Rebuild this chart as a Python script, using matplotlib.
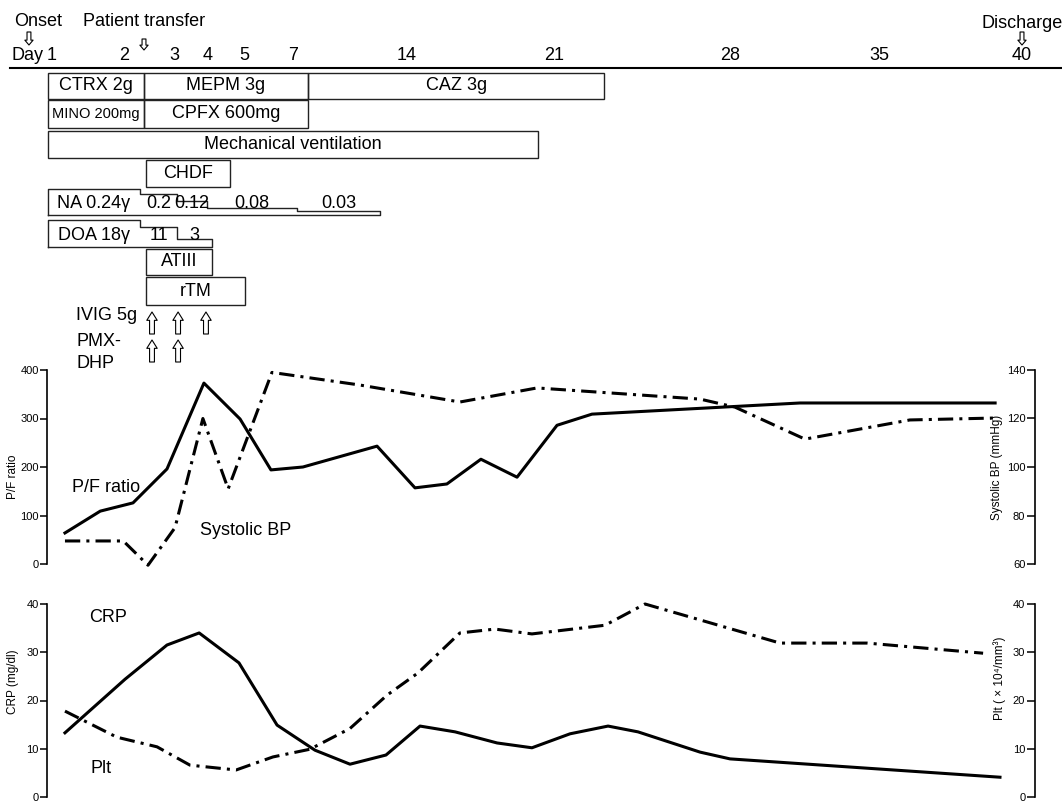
import numpy as np
import matplotlib
matplotlib.use('Agg')
import matplotlib.pyplot as plt
from matplotlib.patches import Rectangle

plt.rcParams['font.family'] = ['Liberation Sans', 'DejaVu Sans']

# day axis (drawn non-linear in the original)
tick_days = [1, 2, 3, 4, 5, 7, 14, 21, 28, 35, 40]
tick_labels = ['1', '2', '3', '4', '5', '7', '14', '21', '28', '35', '40']
tick_px = [52, 124, 174, 208, 244, 293, 407, 554, 730, 879, 1022]

# events
event_labels = ['Onset', 'Patient transfer', 'Discharge']
event_days = [0.68, 2.4, 40.0]

# treatment boxes
box_labels = ['CTRX 2g', 'MEPM 3g', 'CAZ 3g', 'MINO 200mg', 'CPFX 600mg',
              'Mechanical ventilation', 'CHDF', 'ATIII', 'rTM']
box_start = [0.94, 2.40, 7.92, 0.94, 2.40, 0.94, 2.44, 2.44, 2.44]
box_end = [2.40, 7.92, 23.0, 2.40, 7.92, 20.24, 4.61, 4.11, 5.04]

# noradrenaline / dopamine tapering
na_labels = ['NA 0.24\u03b3', '0.2', '0.12', '0.08', '0.03']
na_start = [0.94, 2.32, 3.09, 3.97, 7.25]
na_end = 12.34
doa_labels = ['DOA 18\u03b3', '11', '3']
doa_start = [0.94, 2.32, 3.09]
doa_end = 4.11

ivig_days = [2.56, 3.12, 3.94]
pmx_days = [2.56, 3.12]

# P/F ratio
pf_day = [1.18, 1.67, 2.18, 2.86, 3.88, 4.89, 6.10, 7.61, 12.16, 14.38, 15.90,
          17.52, 19.24, 21.12, 22.51, 31.29, 39.06]
pf_val = [64, 109, 126, 196, 373, 299, 194, 200, 243, 157, 165, 216, 179, 286,
          309, 332, 332]

# systolic BP
sbp_day = [1.18, 1.99, 2.48, 3.03, 3.85, 4.56, 6.14, 11.11, 16.52, 20.19, 26.81,
           28.23, 31.52, 36.08, 39.06]
sbp_val = [69.5, 69.5, 59.5, 75, 120, 91, 139, 133.8, 126.8, 132.6, 128, 124.7,
           111.5, 119.4, 120.2]

# CRP
crp_day = [1.18, 2.02, 2.86, 3.74, 4.86, 6.35, 8.35, 10.5, 12.71, 14.62, 16.29,
           18.29, 19.95, 21.64, 23.15, 24.34, 26.81, 28.0, 39.23]
crp_val = [13.3, 24.4, 31.5, 34.0, 27.8, 14.9, 9.7, 6.8, 8.7, 14.7, 13.5, 11.2,
           10.2, 13.1, 14.7, 13.5, 9.3, 7.9, 4.1]

# platelets
plt_day = [1.18, 1.90, 2.66, 3.47, 4.78, 6.18, 8.04, 10.5, 12.77, 14.52, 16.52,
           18.19, 19.95, 23.03, 24.62, 26.81, 30.35, 34.44, 38.64]
plt_val = [17.8, 12.4, 10.4, 6.6, 5.6, 8.3, 9.9, 14.2, 21.1, 25.7, 34.0, 34.8,
           33.8, 35.6, 40.0, 36.7, 31.9, 31.9, 29.8]

W, H = 1062, 801
knot_days = [-20] + tick_days + [80]
knot_px = [52 - 21 * 72] + tick_px + [1022 + 40 * 28.6]


def fwd(d):
    return np.interp(d, knot_days, knot_px)


def inv(p):
    return np.interp(p, knot_px, knot_days)


def mid(a, b):
    return float(inv((fwd(a) + fwd(b)) / 2))


xlo, xhi = float(inv(0)), float(inv(W))
dashdot = (0, (5, 2, 1, 2))
lw_line = 2.2
big = 13

fig = plt.figure(figsize=(W / 100, H / 100), dpi=100)

# ---- top: treatment timeline ----
top = fig.add_axes([0, 0, 1, 1])
top.set_xscale('function', functions=(fwd, inv))
top.set_xlim(xlo, xhi)
top.set_ylim(H, 0)
top.axis('off')

top.axhline(68, xmin=10 / W, xmax=1, color='black', lw=1.5)
for d, lab in zip(tick_days, tick_labels):
    top.text(d, 55, lab, ha='center', va='center', fontsize=big)
top.annotate('Day', xy=(1, 55), xytext=(-6, 0), textcoords='offset points',
             ha='right', va='center', fontsize=big)

small_arrow = dict(arrowstyle='simple,head_length=0.5,head_width=0.85,tail_width=0.4',
                   fc='white', ec='black', lw=0.8, shrinkA=0, shrinkB=0,
                   mutation_scale=7)
big_arrow = dict(arrowstyle='simple,head_length=0.6,head_width=0.75,tail_width=0.35',
                 fc='white', ec='black', lw=0.8, shrinkA=0, shrinkB=0,
                 mutation_scale=10)

ev_y = [(32, 45, 21), (39, 50, 21), (32, 45, 23)]
ev_off = [6.5, 0, 0]
for lab, d, (y0, y1, ty), off in zip(event_labels, event_days, ev_y, ev_off):
    top.annotate('', xy=(d, y1), xytext=(d, y0), arrowprops=small_arrow)
    top.annotate(lab, xy=(d, ty), xytext=(off, 0), textcoords='offset points',
                 ha='center', va='center', fontsize=big)

box_rows = [(73, 99), (73, 99), (73, 99), (100, 128), (100, 128), (131, 158),
            (160, 187), (249, 275), (277, 305)]
for lab, s, e, (y0, y1) in zip(box_labels, box_start, box_end, box_rows):
    top.add_patch(Rectangle((s, y0), e - s, y1 - y0, fill=False,
                            ec='#222222', lw=1.0))
    fs = 10.5 if lab.startswith('MINO') else big
    top.text(mid(s, e), (y0 + y1) / 2, lab, ha='center', va='center', fontsize=fs)


def step_outline(starts, end, tops, bottom):
    edges = list(starts) + [end]
    xs, ys = [starts[0]], [bottom]
    for i, t in enumerate(tops):
        xs += [edges[i], edges[i + 1]]
        ys += [t, t]
    xs += [end, starts[0]]
    ys += [bottom, bottom]
    return xs, ys


for labels, starts, end, tops, bottom, ty in [
        (na_labels, na_start, na_end, [189, 194, 201, 208, 211], 215, 203),
        (doa_labels, doa_start, doa_end, [220, 227, 239], 247, 236)]:
    xs, ys = step_outline(starts, end, tops, bottom)
    top.plot(xs, ys, color='#222222', lw=1.0)
    edges = list(starts) + [end]
    for i, lab in enumerate(labels):
        top.text(mid(edges[i], edges[i + 1]), ty, lab, ha='center', va='center',
                 fontsize=big)

top.text(float(inv(76)), 316, 'IVIG 5g', ha='left', va='center', fontsize=big)
top.text(float(inv(76)), 342, 'PMX-', ha='left', va='center', fontsize=big)
top.text(float(inv(76)), 363, 'DHP', ha='left', va='center', fontsize=big)
for d in ivig_days:
    top.annotate('', xy=(d, 312), xytext=(d, 334), arrowprops=big_arrow)
for d in pmx_days:
    top.annotate('', xy=(d, 340), xytext=(d, 362), arrowprops=big_arrow)


def panel(bottom_px, height_px):
    ax = fig.add_axes([0, (H - bottom_px) / H, 1, height_px / H])
    ax.set_xscale('function', functions=(fwd, inv))
    ax.set_xlim(xlo, xhi)
    ax.patch.set_alpha(0)
    for s in ['top', 'bottom', 'right']:
        ax.spines[s].set_visible(False)
    ax.spines['left'].set_position(('axes', 47 / W))
    ax.spines['left'].set_linewidth(1.2)
    ax.set_xticks([])
    ax.tick_params(axis='y', direction='out', length=5, width=1.1, labelsize=8, pad=1)
    axr = ax.twinx()
    axr.patch.set_alpha(0)
    for s in ['top', 'bottom', 'left']:
        axr.spines[s].set_visible(False)
    axr.spines['right'].set_position(('axes', 1035 / W))
    axr.spines['right'].set_linewidth(1.2)
    axr.tick_params(axis='y', direction='in', length=6, width=1.1, labelsize=8, pad=-7)
    return ax, axr


# ---- panel 1: P/F ratio and systolic BP ----
ax1, ax1r = panel(564, 194)
ax1.set_ylim(0, 400)
ax1.set_yticks([0, 100, 200, 300, 400])
ax1r.set_ylim(60, 140)
ax1r.set_yticks([60, 80, 100, 120, 140])
plt.setp(ax1r.get_yticklabels(), ha='right')
ax1.plot(pf_day, pf_val, color='black', lw=lw_line, clip_on=False)
ax1r.plot(sbp_day, sbp_val, color='black', lw=lw_line, ls=dashdot, clip_on=False)
ax1.text(1.75, 157, 'P/F ratio', ha='center', va='center', fontsize=big)
ax1.text(5.08, 70, 'Systolic BP', ha='center', va='center', fontsize=big)
fig.text(13 / W, (H - 477) / H, 'P/F ratio', rotation=90, ha='center',
         va='center', fontsize=8.5)
fig.text(997 / W, (H - 467) / H, 'Systolic BP (mmHg)', rotation=90, ha='center',
         va='center', fontsize=8.5)

# ---- panel 2: CRP and platelets ----
ax2, ax2r = panel(797, 193)
ax2.set_ylim(0, 40)
ax2.set_yticks([0, 10, 20, 30, 40])
ax2r.set_ylim(0, 40)
ax2r.set_yticks([0, 10, 20, 30, 40])
plt.setp(ax2r.get_yticklabels(), ha='right')
ax2.plot(crp_day, crp_val, color='black', lw=lw_line, clip_on=False)
ax2r.plot(plt_day, plt_val, color='black', lw=lw_line, ls=dashdot, clip_on=False)
ax2.text(1.78, 37.1, 'CRP', ha='center', va='center', fontsize=big)
ax2.text(1.68, 6.0, 'Plt', ha='center', va='center', fontsize=big)
fig.text(13 / W, (H - 682) / H, 'CRP (mg/dl)', rotation=90, ha='center',
         va='center', fontsize=8.5)
fig.text(1000 / W, (H - 678) / H, 'Plt ( \u00d7 10\u2074/mm\u00b3)', rotation=90,
         ha='center', va='center', fontsize=8.5)

fig.savefig('out.png', dpi=100)
